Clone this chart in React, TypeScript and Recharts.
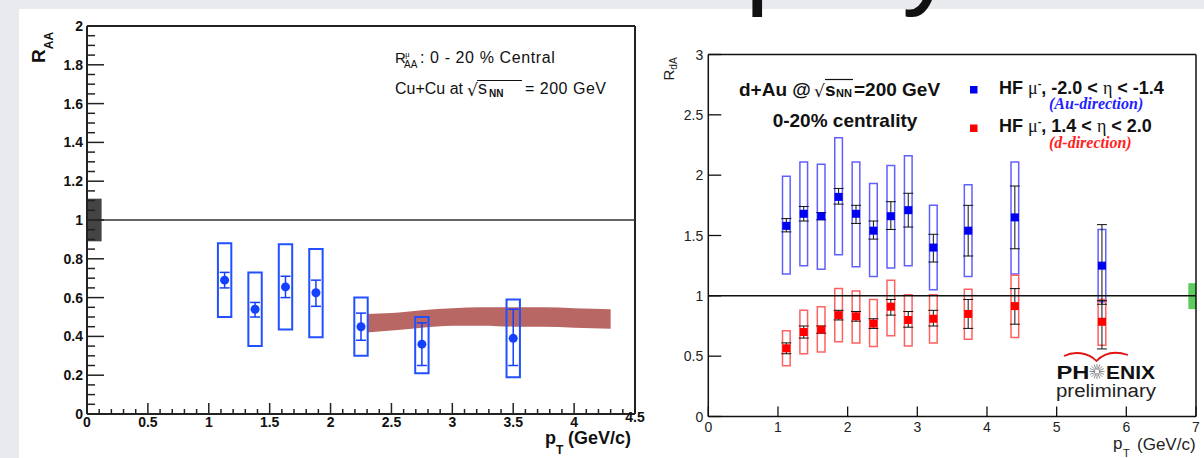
import React from 'react';
import {
    ComposedChart, Scatter, Area, XAxis, YAxis,
    ErrorBar, ReferenceArea, ReferenceLine
} from 'recharts';

const FONT = "'Liberation Sans', Arial, Helvetica, sans-serif";
const SERIF = "'Liberation Serif', 'DejaVu Serif', serif";

// ---------- left panel: Cu+Cu 0-20% central, R_AA of HF muons ----------
const cuPt = [1.13, 1.38, 1.63, 1.88, 2.25, 2.75, 3.5];
const cuRaa = [0.69, 0.54, 0.655, 0.625, 0.45, 0.36, 0.39];
const cuStatLo = [0.65, 0.50, 0.60, 0.555, 0.38, 0.25, 0.25];
const cuStatHi = [0.73, 0.575, 0.71, 0.69, 0.52, 0.47, 0.54];
const cuSysLo = [0.50, 0.35, 0.435, 0.395, 0.30, 0.21, 0.19];
const cuSysHi = [0.88, 0.73, 0.875, 0.85, 0.60, 0.50, 0.59];

// theory band
const cuBandPt = [2.3, 2.5, 2.75, 3.0, 3.25, 3.5, 3.75, 4.0, 4.3];
const cuBandLo = [0.42, 0.43, 0.445, 0.455, 0.455, 0.45, 0.45, 0.445, 0.44];
const cuBandHi = [0.515, 0.52, 0.535, 0.545, 0.55, 0.55, 0.55, 0.545, 0.54];

// global normalisation uncertainty box at R_AA = 1
const cuNormX = [0, 0.12];
const cuNormY = [0.89, 1.11];

const cuXTicks = [0, 0.5, 1, 1.5, 2, 2.5, 3, 3.5, 4, 4.5];
const cuYTicks = [0, 0.2, 0.4, 0.6, 0.8, 1, 1.2, 1.4, 1.6, 1.8, 2];
const cuXMinor = Array.from({ length: 46 }, (_, i) => i / 10);
const cuYMinor = Array.from({ length: 41 }, (_, i) => i / 20);

// ---------- right panel: d+Au 0-20% centrality, R_dA ----------
const hfPt = [1.12, 1.37, 1.62, 1.87, 2.12, 2.37, 2.62, 2.87, 3.23, 3.73, 4.4, 5.65];
const auRda = [1.58, 1.68, 1.66, 1.82, 1.68, 1.54, 1.66, 1.71, 1.40, 1.54, 1.65, 1.25];
const auStatLo = [1.53, 1.62, 1.63, 1.76, 1.60, 1.47, 1.55, 1.57, 1.28, 1.33, 1.39, 0.93];
const auStatHi = [1.64, 1.74, 1.69, 1.89, 1.75, 1.62, 1.78, 1.85, 1.51, 1.75, 1.91, 1.59];
const auSysLo = [1.18, 1.25, 1.22, 1.34, 1.24, 1.16, 1.23, 1.25, 1.05, 1.16, 1.18, 0.95];
const auSysHi = [1.99, 2.11, 2.09, 2.31, 2.11, 1.93, 2.08, 2.16, 1.75, 1.92, 2.11, 1.55];

const dRda = [0.565, 0.70, 0.72, 0.84, 0.83, 0.77, 0.91, 0.80, 0.81, 0.85, 0.915, 0.785];
const dStatLo = [0.52, 0.65, 0.69, 0.80, 0.79, 0.73, 0.84, 0.74, 0.75, 0.73, 0.765, 0.56];
const dStatHi = [0.61, 0.75, 0.75, 0.88, 0.87, 0.81, 0.97, 0.87, 0.88, 0.97, 1.06, 0.96];
const dSysLo = [0.42, 0.52, 0.535, 0.62, 0.61, 0.58, 0.67, 0.585, 0.61, 0.64, 0.655, 0.59];
const dSysHi = [0.71, 0.88, 0.91, 1.06, 1.04, 0.97, 1.13, 1.01, 1.01, 1.055, 1.17, 0.97];

const dauNormX = [6.89, 7];
const dauNormY = [0.89, 1.105];

const dauXTicks = [0, 1, 2, 3, 4, 5, 6, 7];
const dauYTicks = [0, 0.5, 1, 1.5, 2, 2.5, 3];

const CU_BOX = 0.055;
const DAU_BOX = 0.055;

const cuPoints = cuPt.map((x, i) => ({
    x, y: cuRaa[i], err: [cuRaa[i] - cuStatLo[i], cuStatHi[i] - cuRaa[i]]
}));
const cuBand = cuBandPt.map((x, i) => ({ x, lo: cuBandLo[i], hi: cuBandHi[i] }));
const auPoints = hfPt.map((x, i) => ({
    x, y: auRda[i], err: [auRda[i] - auStatLo[i], auStatHi[i] - auRda[i]]
}));
const dPoints = hfPt.map((x, i) => ({
    x, y: dRda[i], err: [dRda[i] - dStatLo[i], dStatHi[i] - dRda[i]]
}));

const hasTick = (arr: number[], v: number) => arr.some(t => Math.abs(t - v) < 1e-6);
const fmt = (v: number) => String(parseFloat(v.toFixed(2)));

// ROOT style ticks: drawn inward, labels outside
const CuXTick = (p: any) => {
    const v = p.payload.value;
    const major = hasTick(cuXTicks, v);
    const lift = Math.abs(v - 4.5) < 1e-6 ? 5 : 0;
    return (
        <g>
            <line x1={p.x} x2={p.x} y1={p.y} y2={p.y - (major ? 11 : 5)} stroke="#222" strokeWidth={1.5} />
            {major && (
                <text x={p.x} y={p.y + 13 - lift} textAnchor="middle" fontFamily={FONT} fontWeight="bold" fontSize={14} fill="#111">
                    {fmt(v)}
                </text>
            )}
        </g>
    );
};

const CuYTick = (p: any) => {
    const v = p.payload.value;
    const major = hasTick(cuYTicks, v);
    return (
        <g>
            <line x1={p.x} x2={p.x + (major ? 17 : 8)} y1={p.y} y2={p.y} stroke="#222" strokeWidth={1.5} />
            {major && (
                <text x={p.x - 4} y={p.y + 5} textAnchor="end" fontFamily={FONT} fontWeight="bold" fontSize={14} fill="#111">
                    {fmt(v)}
                </text>
            )}
        </g>
    );
};

const DauXTick = (p: any) => (
    <g>
        <line x1={p.x} x2={p.x} y1={p.y} y2={p.y - 10} stroke="#111" strokeWidth={1.3} />
        <text x={p.x} y={p.y + 15} textAnchor="middle" fontFamily={FONT} fontSize={14} fill="#222">
            {fmt(p.payload.value)}
        </text>
    </g>
);

const DauYTick = (p: any) => (
    <g>
        <line x1={p.x} x2={p.x + 13} y1={p.y} y2={p.y} stroke="#111" strokeWidth={1.3} />
        <text x={p.x - 5} y={p.y + 5} textAnchor="end" fontFamily={FONT} fontSize={14} fill="#222">
            {fmt(p.payload.value)}
        </text>
    </g>
);

const Dot = (p: any) => <circle cx={p.cx} cy={p.cy} r={4.5} fill="#1440ff" />;
const BlueSq = (p: any) => <rect x={p.cx - 4} y={p.cy - 4} width={8} height={8} fill="#0000f0" />;
const RedSq = (p: any) => <rect x={p.cx - 4} y={p.cy - 4} width={8} height={8} fill="#ff0000" />;

const rays = Array.from({ length: 16 }, (_, i) => (i * Math.PI) / 8);

const Overlay = () => (
    <svg width={1204} height={458} style={{ position: 'absolute', left: 0, top: 0, pointerEvents: 'none' }}>
        {/* cut-off slide title, only the descenders show */}
        <text x={745} y={-6} fontFamily={FONT} fontSize={110} fill="#111">p</text>
        <text x={902} y={-6} fontFamily={FONT} fontSize={110} fill="#111">y</text>

        {/* left panel labels */}
        <text transform="translate(45,63) rotate(-90)" fontFamily={FONT} fontWeight="bold" fill="#111">
            <tspan fontSize={19}>R</tspan>
            <tspan fontSize={12} dy={8}>AA</tspan>
        </text>
        <text x={395} y={63} fontFamily={FONT} fontSize={15} fill="#111">R</text>
        <text x={405} y={57} fontFamily={SERIF} fontSize={9} fill="#111">μ</text>
        <text x={404} y={68} fontFamily={FONT} fontSize={10} fill="#111">AA</text>
        <text x={420} y={63} fontFamily={FONT} fontSize={16} letterSpacing={0.6} fill="#111">: 0 - 20 % Central</text>
        <text x={395} y={94} fontFamily={FONT} fontSize={16} fill="#111">Cu+Cu at</text>
        <text x={467} y={96} fontFamily="'DejaVu Sans', sans-serif" fontSize={17} fill="#111">√</text>
        <line x1={477} x2={522} y1={80.5} y2={80.5} stroke="#111" strokeWidth={1} />
        <text x={478} y={94} fontFamily={FONT} fontSize={18} fill="#111">s</text>
        <text x={489} y={97} fontFamily={FONT} fontWeight="bold" fontSize={10} fill="#111">NN</text>
        <text x={525} y={94} fontFamily={FONT} fontSize={16} letterSpacing={0.5} fill="#111">= 200 GeV</text>
        <text x={545} y={444} fontFamily={FONT} fontWeight="bold" fontSize={18} fill="#111">p</text>
        <text x={556} y={454} fontFamily={FONT} fontWeight="bold" fontSize={12} fill="#111">T</text>
        <text x={568} y={444} fontFamily={FONT} fontWeight="bold" fontSize={18} fill="#111">(GeV/c)</text>

        {/* right panel labels */}
        <text transform="translate(673.5,80.5) rotate(-90)" fontFamily={FONT} fill="#222">
            <tspan fontSize={15}>R</tspan>
            <tspan fontSize={10} dy={3}>dA</tspan>
        </text>
        <text x={739} y={96} fontFamily={FONT} fontWeight="bold" fontSize={19} fill="#111">d+Au @</text>
        <text x={814} y={97} fontFamily="'DejaVu Sans', sans-serif" fontSize={17} fill="#111">√</text>
        <line x1={825} x2={853} y1={79.5} y2={79.5} stroke="#111" strokeWidth={1.2} />
        <text x={825} y={96} fontFamily={FONT} fontWeight="bold" fontSize={19} fill="#111">s</text>
        <text x={836} y={97} fontFamily={FONT} fontWeight="bold" fontSize={11} fill="#111">NN</text>
        <text x={854} y={96} fontFamily={FONT} fontWeight="bold" fontSize={19} fill="#111">=200 GeV</text>
        <text x={845} y={127} textAnchor="middle" fontFamily={FONT} fontWeight="bold" fontSize={19} fill="#111">0-20% centrality</text>

        <rect x={970} y={86} width={7.5} height={7.5} fill="#0000f0" />
        <text x={999} y={94} fontFamily={FONT} fontWeight="bold" fontSize={18} fill="#111">
            HF <tspan fontFamily={SERIF} fontWeight="normal">μ</tspan>
            <tspan fontSize={11} dy={-7}>-</tspan>
            <tspan dy={7}>, -2.0 &lt; </tspan>
            <tspan fontFamily={SERIF} fontWeight="normal">η</tspan> &lt; -1.4
        </text>
        <text x={1049} y={109} fontFamily={SERIF} fontWeight="bold" fontStyle="italic" fontSize={16} fill="#2222ff">(Au-direction)</text>
        <rect x={970} y={124.5} width={7.5} height={7.5} fill="#ff0000" />
        <text x={999} y={132} fontFamily={FONT} fontWeight="bold" fontSize={18} fill="#111">
            HF <tspan fontFamily={SERIF} fontWeight="normal">μ</tspan>
            <tspan fontSize={11} dy={-7}>-</tspan>
            <tspan dy={7}>, 1.4 &lt; </tspan>
            <tspan fontFamily={SERIF} fontWeight="normal">η</tspan> &lt; 2.0
        </text>
        <text x={1049} y={148} fontFamily={SERIF} fontWeight="bold" fontStyle="italic" fontSize={16} fill="#ff2222">(d-direction)</text>

        <text x={1113} y={449} fontFamily={FONT} fontSize={17} fill="#222">p</text>
        <text x={1123} y={457} fontFamily={FONT} fontSize={11} fill="#222">T</text>
        <text x={1137} y={450} fontFamily={FONT} fontSize={17} fill="#222">(GeV/c)</text>

        {/* PHENIX preliminary */}
        <path d="M1064,356 C1074,351 1088,352 1096.5,361 C1105,352 1116,351 1128,355" stroke="#e01515" strokeWidth={1.8} fill="none" />
        <text x={1056.5} y={378.5} fontFamily={FONT} fontWeight="bold" fontSize={18} textLength={33} lengthAdjust="spacingAndGlyphs" fill="#111">PH</text>
        {rays.map((a, i) => (
            <line key={i} x1={1097 + 2 * Math.cos(a)} y1={371.5 + 2 * Math.sin(a)}
                x2={1097 + 7.5 * Math.cos(a)} y2={371.5 + 7.5 * Math.sin(a)} stroke="#8a8a8a" strokeWidth={1} />
        ))}
        <text x={1106} y={378.5} fontFamily={FONT} fontWeight="bold" fontSize={18} textLength={49} lengthAdjust="spacingAndGlyphs" fill="#111">ENIX</text>
        <text x={1056} y={397} fontFamily={FONT} fontSize={18} textLength={100} lengthAdjust="spacingAndGlyphs" fill="#222">preliminary</text>
    </svg>
);

const CuCuChart = () => (
    <ComposedChart width={660} height={458} margin={{ top: 26, right: 25, bottom: 14, left: 27 }}>
        <XAxis type="number" dataKey="x" domain={[0, 4.5]} ticks={cuXMinor} interval={0}
            tick={CuXTick} tickLine={false} tickSize={0} tickMargin={0} height={30}
            axisLine={{ stroke: '#222', strokeWidth: 2 }} allowDataOverflow />
        <YAxis type="number" dataKey="y" domain={[0, 2]} ticks={cuYMinor} interval={0}
            tick={CuYTick} tickLine={false} tickSize={0} tickMargin={0} width={60}
            axisLine={{ stroke: '#222', strokeWidth: 2 }} allowDataOverflow />
        <ReferenceLine y={2} stroke="#222" strokeWidth={2} />
        <ReferenceLine x={4.5} stroke="#222" strokeWidth={2} />
        <ReferenceArea x1={cuNormX[0]} x2={cuNormX[1]} y1={cuNormY[0]} y2={cuNormY[1]} fill="#444" fillOpacity={1} stroke="none" />
        <ReferenceLine y={1} stroke="#333" strokeWidth={1.5} />
        <Area data={cuBand} dataKey={(d: any) => [d.lo, d.hi]} type="monotone" stroke="none"
            fill="#b96764" fillOpacity={1} dot={false} activeDot={false} isAnimationActive={false} />
        {cuPt.map((x, i) => (
            <ReferenceArea key={'cs' + i} x1={x - CU_BOX} x2={x + CU_BOX} y1={cuSysLo[i]} y2={cuSysHi[i]}
                fill="none" stroke="#2050ff" strokeWidth={2} />
        ))}
        <Scatter data={cuPoints} dataKey="y" shape={Dot} isAnimationActive={false}>
            <ErrorBar dataKey="err" direction="y" width={5} stroke="#1440ff" strokeWidth={1.5} />
        </Scatter>
    </ComposedChart>
);

const DAuChart = () => (
    <ComposedChart width={564} height={458} margin={{ top: 54.5, right: 8, bottom: 11.5, left: 18.3 }}>
        <XAxis type="number" dataKey="x" domain={[0, 7]} ticks={dauXTicks} interval={0}
            tick={DauXTick} tickLine={false} tickSize={0} tickMargin={0} height={30}
            axisLine={{ stroke: '#111', strokeWidth: 1.5 }} allowDataOverflow />
        <YAxis type="number" dataKey="y" domain={[0, 3]} ticks={dauYTicks} interval={0}
            tick={DauYTick} tickLine={false} tickSize={0} tickMargin={0} width={50}
            axisLine={{ stroke: '#111', strokeWidth: 1.5 }} allowDataOverflow />
        <ReferenceLine y={3} stroke="#111" strokeWidth={1.5} />
        <ReferenceLine x={7} stroke="#111" strokeWidth={1.5} />
        <ReferenceLine y={1} stroke="#111" strokeWidth={1.5} />
        <ReferenceArea x1={dauNormX[0]} x2={dauNormX[1]} y1={dauNormY[0]} y2={dauNormY[1]}
            fill="#5ccd5c" fillOpacity={1} stroke="none" />
        {hfPt.map((x, i) => (
            <ReferenceArea key={'as' + i} x1={x - DAU_BOX} x2={x + DAU_BOX} y1={auSysLo[i]} y2={auSysHi[i]}
                fill="none" stroke="#6060ff" strokeWidth={1.5} />
        ))}
        {hfPt.map((x, i) => (
            <ReferenceArea key={'ds' + i} x1={x - DAU_BOX} x2={x + DAU_BOX} y1={dSysLo[i]} y2={dSysHi[i]}
                fill="none" stroke="#ff6060" strokeWidth={1.5} />
        ))}
        <Scatter data={auPoints} dataKey="y" shape={BlueSq} isAnimationActive={false}>
            <ErrorBar dataKey="err" direction="y" width={5} stroke="#111" strokeWidth={1} />
        </Scatter>
        <Scatter data={dPoints} dataKey="y" shape={RedSq} isAnimationActive={false}>
            <ErrorBar dataKey="err" direction="y" width={5} stroke="#111" strokeWidth={1} />
        </Scatter>
    </ComposedChart>
);

export default function App() {
    return (
        <div style={{ position: 'absolute', left: 0, top: 0, width: 1204, height: 458, background: '#e8eaed', overflow: 'hidden' }}>
            <div style={{ position: 'absolute', left: 19, top: 9, right: 0, bottom: 0, background: '#fff' }} />
            <div style={{ position: 'absolute', left: 0, top: 0 }}>
                <CuCuChart />
            </div>
            <div style={{ position: 'absolute', left: 640, top: 0 }}>
                <DAuChart />
            </div>
            <Overlay />
        </div>
    );
}
